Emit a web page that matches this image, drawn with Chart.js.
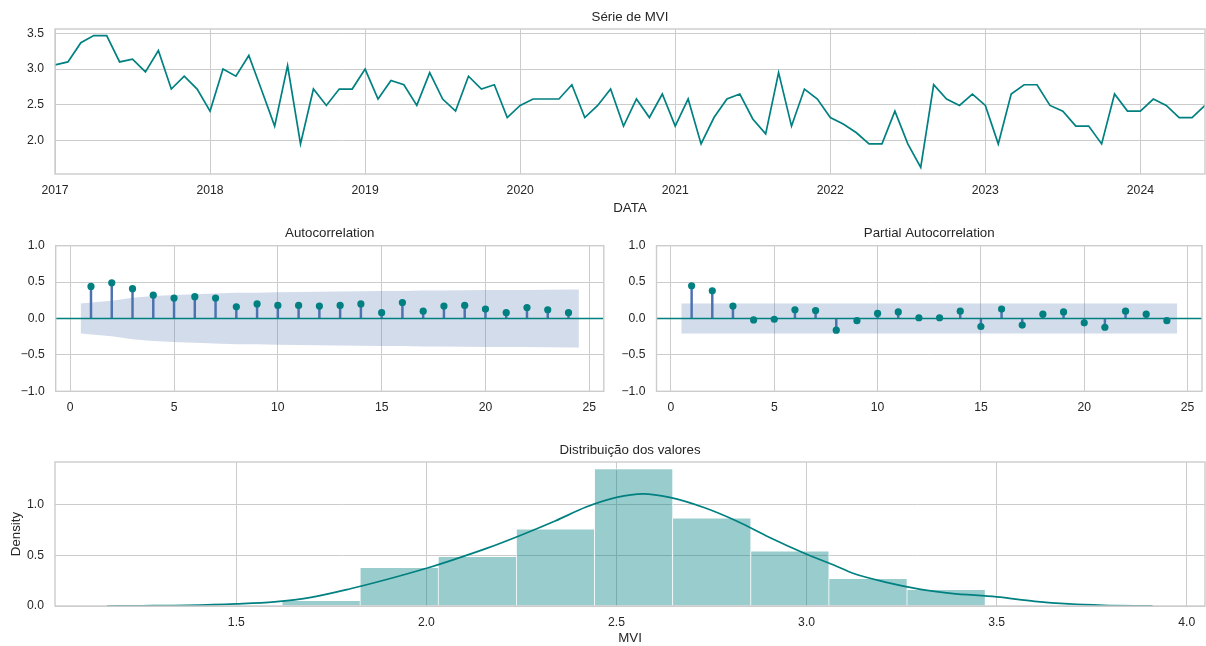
<!DOCTYPE html>
<html>
<head>
<meta charset="utf-8">
<script src="https://cdn.jsdelivr.net/npm/chart.js@4.4.1/dist/chart.umd.min.js"></script>
<style>
  html, body { margin: 0; padding: 0; background: #fff; }
  #wrap { position: relative; width: 1206px; height: 646px; overflow: hidden; }
  #wrap canvas { position: absolute; }
</style>
</head>
<body>
<div id="wrap">
  <canvas id="serie" width="1206" height="222" style="left:0;top:0"></canvas>
  <canvas id="acf" width="620" height="198" style="left:0;top:222px"></canvas>
  <canvas id="pacf" width="586" height="198" style="left:620px;top:222px"></canvas>
  <canvas id="dist" width="1206" height="226" style="left:0;top:420px"></canvas>
</div>
<script>
// monthly MVI, Jan 2017 .. Jun 2024
const yearTicks = ['2017', '2018', '2019', '2020', '2021', '2022', '2023', '2024'];
const mviValues = [
  3.06, 3.10, 3.37, 3.47, 3.47, 3.10, 3.14, 2.96, 3.26, 2.72, 2.90, 2.72,
  2.41, 3.00, 2.90, 3.19, 2.70, 2.20, 3.05, 1.95, 2.72, 2.49, 2.72, 2.72,
  3.00, 2.58, 2.84, 2.78, 2.49, 2.95, 2.58, 2.41, 2.90, 2.72, 2.78, 2.32,
  2.49, 2.58, 2.58, 2.58, 2.78, 2.32, 2.49, 2.72, 2.20, 2.58, 2.32, 2.65,
  2.20, 2.58, 1.95, 2.32, 2.58, 2.65, 2.30, 2.09, 2.95, 2.20, 2.72, 2.58,
  2.32, 2.23, 2.11, 1.95, 1.95, 2.41, 1.95, 1.62, 2.78, 2.58, 2.49, 2.65,
  2.49, 1.95, 2.65, 2.78, 2.78, 2.49, 2.41, 2.20, 2.20, 1.95, 2.65, 2.41,
  2.41, 2.58, 2.49, 2.32, 2.32, 2.49
];
const serieYTicks = [2.0, 2.5, 3.0, 3.5];

const lags = [1, 2, 3, 4, 5, 6, 7, 8, 9, 10, 11, 12, 13, 14, 15, 16, 17, 18, 19, 20, 21, 22, 23, 24];
const acfValues = [0.44, 0.49, 0.41, 0.32, 0.28, 0.30, 0.28, 0.16, 0.20, 0.18, 0.18, 0.17,
  0.18, 0.20, 0.08, 0.22, 0.10, 0.17, 0.18, 0.13, 0.08, 0.15, 0.12, 0.08];
const acfBand = [0.207, 0.243, 0.284, 0.308, 0.322, 0.332, 0.343, 0.352, 0.355, 0.360, 0.364, 0.367,
  0.370, 0.373, 0.377, 0.378, 0.383, 0.384, 0.387, 0.390, 0.392, 0.393, 0.395, 0.397];
const pacfValues = [0.45, 0.38, 0.17, -0.02, -0.01, 0.12, 0.11, -0.16, -0.03, 0.07, 0.09, 0.01,
  0.01, 0.10, -0.11, 0.13, -0.09, 0.06, 0.09, -0.06, -0.12, 0.10, 0.06, -0.03];
const pacfBand = [0.207, 0.207, 0.207, 0.207, 0.207, 0.207, 0.207, 0.207, 0.207, 0.207, 0.207, 0.207,
  0.207, 0.207, 0.207, 0.207, 0.207, 0.207, 0.207, 0.207, 0.207, 0.207, 0.207, 0.207];
const lagTicks = [0, 5, 10, 15, 20, 25];
const corrYTicks = [-1.0, -0.5, 0.0, 0.5, 1.0];

const histEdges = [1.62, 1.826, 2.031, 2.237, 2.442, 2.648, 2.853, 3.059, 3.264, 3.47];
const histDensity = [0.054, 0.378, 0.486, 0.757, 1.351, 0.865, 0.541, 0.270, 0.162];
const kdeX = [1.16, 1.25, 1.37, 1.50, 1.60, 1.70, 1.80, 1.90, 2.00, 2.07, 2.16, 2.25, 2.34, 2.42, 2.50,
  2.57, 2.64, 2.73, 2.82, 2.90, 3.00, 3.08, 3.12, 3.21, 3.30, 3.38, 3.50, 3.60, 3.69, 3.78, 3.91];
const kdeY = [0.000, 0.002, 0.006, 0.020, 0.040, 0.088, 0.170, 0.266, 0.372, 0.455, 0.570, 0.700, 0.840, 0.975, 1.070,
  1.105, 1.070, 0.970, 0.830, 0.680, 0.510, 0.390, 0.325, 0.233, 0.164, 0.125, 0.090, 0.046, 0.020, 0.007, 0.001];
const mviTicks = [1.5, 2.0, 2.5, 3.0, 3.5, 4.0];
const densityTicks = [0.0, 0.5, 1.0];

const TEAL = '#008080';
const BLUE = '#4c72b0';
const GRID = '#cccccc';
const TEXT = '#262626';
const FONT = "'Liberation Sans', Arial, sans-serif";

Chart.defaults.font.family = FONT;
Chart.defaults.color = TEXT;

// axes frame + panel title
const framePlugin = {
  id: 'frame',
  afterDatasetsDraw(chart, args, opts) {
    const { ctx, chartArea: a } = chart;
    ctx.save();
    ctx.strokeStyle = GRID;
    ctx.lineWidth = 1.4;
    ctx.strokeRect(a.left, a.top, a.right - a.left, a.bottom - a.top);
    if (opts.title) {
      ctx.fillStyle = TEXT;
      ctx.font = '13.3px ' + FONT;
      ctx.textAlign = 'center';
      ctx.textBaseline = 'middle';
      ctx.fillText(opts.title, (a.left + a.right) / 2, a.top - 12);
    }
    ctx.restore();
  }
};

function fmt(v) {
  return (v < 0 ? '\u2212' : '') + Math.abs(v).toFixed(1);
}

function axis(ticks, size, isX, extra) {
  const cfg = {
    type: 'linear',
    offset: false,
    grid: { color: GRID, lineWidth: 1, drawTicks: false, offset: false },
    border: { display: false },
    ticks: { font: { size: 12.2 }, color: TEXT, padding: isX ? 9 : 11, maxRotation: 0, autoSkip: false },
    afterBuildTicks: (s) => { s.ticks = ticks.map((v) => ({ value: v })); },
    afterFit: (s) => { if (isX) s.height = size; else s.width = size; }
  };
  Object.keys(extra || {}).forEach((k) => {
    cfg[k] = (typeof extra[k] === 'object' && cfg[k]) ? Object.assign({}, cfg[k], extra[k]) : extra[k];
  });
  return cfg;
}

const baseOpts = {
  responsive: false,
  animation: false,
  events: []
};

// Série de MVI
new Chart(document.getElementById('serie'), {
  type: 'line',
  data: {
    datasets: [{
      data: mviValues.map((v, i) => ({ x: i, y: v })),
      borderColor: TEAL,
      borderWidth: 1.7,
      pointRadius: 0,
      tension: 0
    }]
  },
  options: Object.assign({}, baseOpts, {
    layout: { padding: { top: 29, right: 1, left: 0, bottom: 0 } },
    plugins: { legend: { display: false }, tooltip: { enabled: false }, frame: { title: 'Série de MVI' } },
    scales: {
      x: axis(yearTicks.map((_, k) => k * 12), 48, true, {
        min: 0,
        max: mviValues.length - 1,
        ticks: { callback: (v) => yearTicks[v / 12] },
        title: { display: true, text: 'DATA', font: { size: 13.3 }, color: TEXT, padding: { top: 0, bottom: 6 } }
      }),
      y: axis(serieYTicks, 55, false, {
        min: 1.5275,
        max: 3.5625,
        ticks: { callback: fmt }
      })
    }
  }),
  plugins: [framePlugin]
});

function corrChart(id, values, band, title, yWidth, padRight) {
  const bandX = lags.map((l, i) => (i === 0 ? l - 0.5 : (i === lags.length - 1 ? l + 0.5 : l)));
  new Chart(document.getElementById(id), {
    type: 'line',
    data: {
      datasets: [
        {
          data: band.map((b, i) => ({ x: bandX[i], y: b })),
          fill: '+1',
          backgroundColor: 'rgba(76,114,176,0.25)',
          borderColor: 'rgba(0,0,0,0)',
          borderWidth: 0,
          pointRadius: 0,
          order: 5
        },
        {
          data: band.map((b, i) => ({ x: bandX[i], y: -b })),
          fill: false,
          borderColor: 'rgba(0,0,0,0)',
          borderWidth: 0,
          pointRadius: 0,
          order: 5
        },
        {
          type: 'bar',
          data: values.map((v, i) => ({ x: lags[i], y: v })),
          backgroundColor: BLUE,
          barThickness: 1.8,
          order: 4
        },
        {
          data: [{ x: -0.7, y: 0 }, { x: 25.7, y: 0 }],
          borderColor: TEAL,
          borderWidth: 1.7,
          pointRadius: 0,
          order: 3
        },
        {
          data: values.map((v, i) => ({ x: lags[i], y: v })),
          showLine: false,
          pointRadius: 3.6,
          pointBackgroundColor: TEAL,
          pointBorderWidth: 0,
          order: 2
        }
      ]
    },
    options: Object.assign({}, baseOpts, {
      layout: { padding: { top: 23.7, right: padRight, left: 0, bottom: 0 } },
      plugins: { legend: { display: false }, tooltip: { enabled: false }, frame: { title: title } },
      scales: {
        x: axis(lagTicks, 28.7, true, { min: -0.7, max: 25.7, ticks: { callback: (v) => String(v) } }),
        y: axis(corrYTicks, yWidth, false, { min: -1, max: 1, ticks: { callback: fmt } })
      }
    }),
    plugins: [framePlugin]
  });
}

corrChart('acf', acfValues, acfBand, 'Autocorrelation', 55.7, 16.2);
corrChart('pacf', pacfValues, pacfBand, 'Partial Autocorrelation', 36.5, 1);

// Distribuição dos valores
const histCenters = histDensity.map((_, i) => (histEdges[i] + histEdges[i + 1]) / 2);
new Chart(document.getElementById('dist'), {
  type: 'line',
  data: {
    datasets: [
      {
        type: 'bar',
        data: histDensity.map((d, i) => ({ x: histCenters[i], y: d })),
        backgroundColor: 'rgba(0,128,128,0.4)',
        borderColor: 'rgba(255,255,255,0.9)',
        borderWidth: 0.7,
        barPercentage: 1,
        categoryPercentage: 1,
        order: 2
      },
      {
        data: kdeX.map((x, i) => ({ x: x, y: kdeY[i] })),
        borderColor: TEAL,
        borderWidth: 1.7,
        pointRadius: 0,
        cubicInterpolationMode: 'monotone',
        order: 1
      }
    ]
  },
  options: Object.assign({}, baseOpts, {
    layout: { padding: { top: 42, right: 1, left: 0, bottom: 0 } },
    plugins: { legend: { display: false }, tooltip: { enabled: false }, frame: { title: 'Distribuição dos valores' } },
    scales: {
      x: axis(mviTicks, 40, true, {
        min: 1.023,
        max: 4.048,
        ticks: { callback: fmt },
        title: { display: true, text: 'MVI', font: { size: 13.3 }, color: TEXT, padding: { top: 0, bottom: 0 } }
      }),
      y: axis(densityTicks, 55, false, {
        min: 0,
        max: 1.419,
        ticks: { callback: fmt },
        title: { display: true, text: 'Density', font: { size: 13.3 }, color: TEXT, padding: { top: 8, bottom: 0 } }
      })
    }
  }),
  plugins: [framePlugin]
});
</script>
</body>
</html>
